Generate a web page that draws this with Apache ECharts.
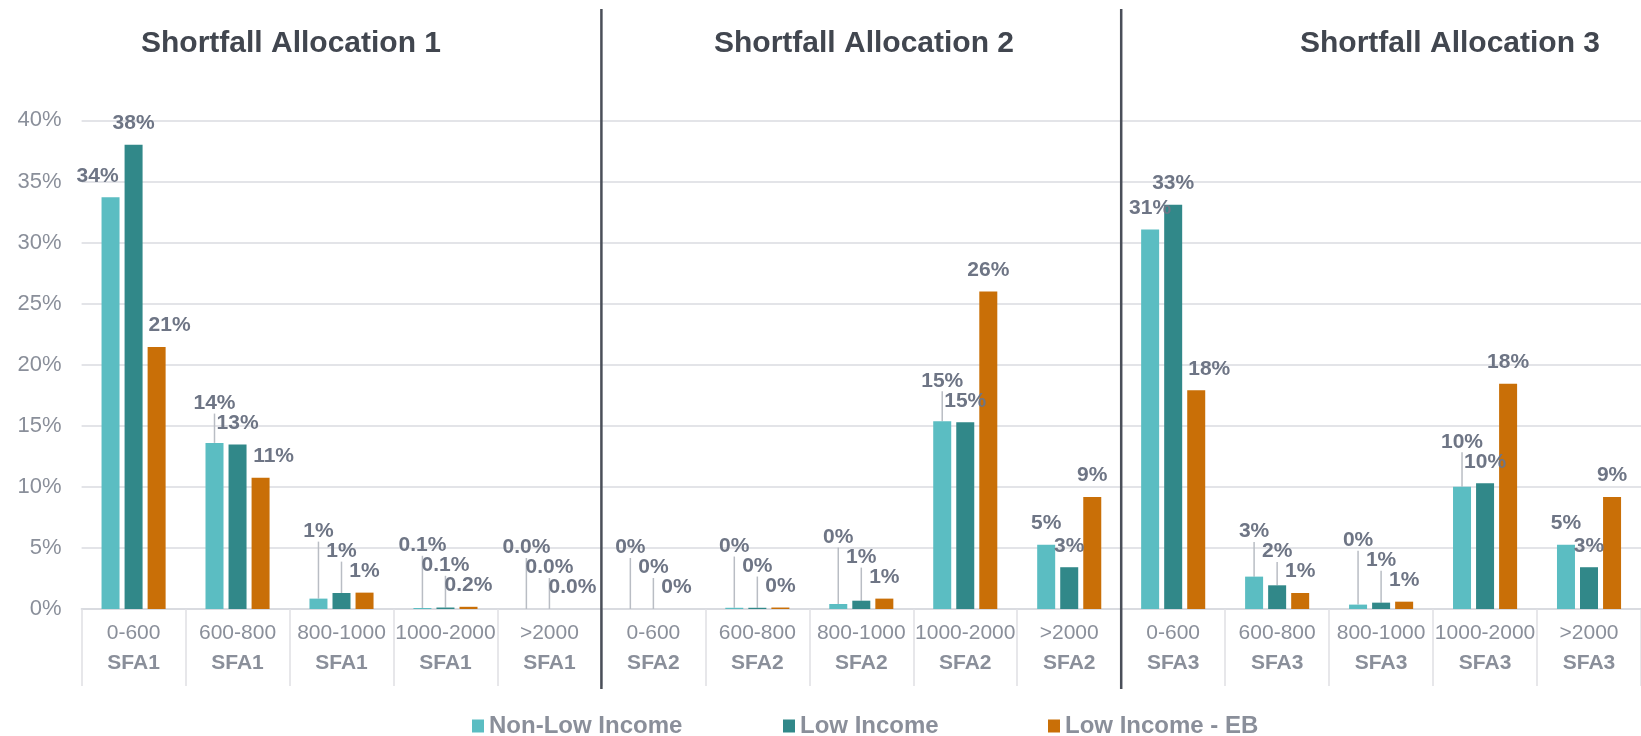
<!DOCTYPE html>
<html>
<head>
<meta charset="utf-8">
<script src="https://cdn.jsdelivr.net/npm/echarts@6/dist/echarts.min.js"></script>
<style>
html,body{margin:0;padding:0;background:#fff;}
#chart{width:1641px;height:736px;}
</style>
</head>
<body>
<div id="chart"></div>
<script>
// ---- data ----
const rangeLabels = ['0-600','600-800','800-1000','1000-2000','>2000',
                     '0-600','600-800','800-1000','1000-2000','>2000',
                     '0-600','600-800','800-1000','1000-2000','>2000'];
const groupLabels = ['SFA1','SFA1','SFA1','SFA1','SFA1',
                     'SFA2','SFA2','SFA2','SFA2','SFA2',
                     'SFA3','SFA3','SFA3','SFA3','SFA3'];
const groupTitles = ['Shortfall Allocation 1','Shortfall Allocation 2','Shortfall Allocation 3'];
const seriesNames = ['Non-Low Income','Low Income','Low Income - EB'];
const nonLowIncome = [33.7, 13.6, 0.85, 0.08, 0.0,  0.0, 0.1, 0.41, 15.38, 5.25,  31.06, 2.65, 0.36, 10.0, 5.25];
const lowIncome    = [38.0, 13.46, 1.31, 0.12, 0.0, 0.0, 0.1, 0.68, 15.29, 3.42,  33.1, 1.94, 0.52, 10.29, 3.42];
const lowIncomeEB  = [21.45, 10.75, 1.34, 0.18, 0.0, 0.0, 0.12, 0.85, 26.0, 9.17,  17.9, 1.31, 0.6, 18.45, 9.17];
const labelDecimals = [0,0,0,1,1, 0,0,0,0,0, 0,0,0,0,0];
const yTicks = [0,5,10,15,20,25,30,35,40];

const allSeries = [nonLowIncome, lowIncome, lowIncomeEB];
const colors = ['#5bbdc2','#318889','#c96f07'];
const FONT = '"Liberation Sans", Arial, sans-serif';
const GROUP_SIZE = 5;

const chart = echarts.init(document.getElementById('chart'), null, {renderer:'canvas'});

const LABEL_GAP = 11;
const LABEL_H = 20;
const SIDE_SHIFT = 13;
function yPix(v) { return chart.convertToPixel({yAxisIndex:0}, v); }
function labelShift(seriesIdx, dataIdx) {
  const natural = [];
  for (let s = 0; s < 3; s++) natural[s] = yPix(allSeries[s][dataIdx]) - LABEL_GAP;
  const placed = [];
  const ys = [];
  for (let s = 2; s >= 0; s--) {
    let y = natural[s];
    let changed = true;
    while (changed) {
      changed = false;
      for (const p of placed) {
        if (y > p - LABEL_H + 0.01 && y - LABEL_H < p - 0.01) { y = p - LABEL_H; changed = true; }
      }
    }
    placed.push(y);
    ys[s] = y;
  }
  return ys[seriesIdx] - natural[seriesIdx];
}
// outer labels step sideways when the neighbouring bar rises through them
function labelSide(seriesIdx, dataIdx, dy) {
  if (Math.abs(dy) > 0.5) return 0;
  const bottom = yPix(allSeries[seriesIdx][dataIdx]) - LABEL_GAP;
  if (seriesIdx === 0 && yPix(allSeries[1][dataIdx]) < bottom &&
      !(dataIdx > 0 && dataIdx % GROUP_SIZE === 0)) return -SIDE_SHIFT;
  if (seriesIdx === 2 && yPix(allSeries[1][dataIdx]) < bottom) return SIDE_SHIFT;
  return 0;
}

function buildSeries(withLines) {
  return seriesNames.map((name, si) => ({
    name: name,
    type: 'bar',
    data: allSeries[si].map((v, di) => withLines
      ? {value: v, labelLine: {show: Math.abs(labelShift(si, di)) > 0.5}}
      : {value: v, labelLine: {show: false}}),
    barWidth: 18,
    barGap: '28%',
    itemStyle: {color: colors[si]},
    label: {
      show: true,
      position: 'top',
      distance: 0,
      padding: [0, 0, LABEL_GAP, 0],
      color: '#6e7585',
      fontWeight: 'bold',
      fontSize: 21,
      fontFamily: FONT,
      formatter: p => p.value.toFixed(labelDecimals[p.dataIndex]) + '%'
    },
    labelLine: {show: true, lineStyle: {color: '#b9bdc4', width: 1.5}},
    labelLayout: function (params) {
      const dy = labelShift(params.seriesIndex, params.dataIndex);
      return {dy: dy, dx: labelSide(params.seriesIndex, params.dataIndex, dy)};
    }
  }));
}

const titleCenters = [291, 864, 1450];
const option = {
  animation: false,
  backgroundColor: '#ffffff',
  title: groupTitles.map((t, i) => ({
    text: t, left: titleCenters[i], top: 29, textAlign: 'center', padding: 0,
    textStyle: {fontFamily: FONT, fontSize: 30, fontWeight: 'bold', color: '#41464f'}
  })),
  legend: seriesNames.map((n, i) => ({
    data: [n], left: [472, 783, 1048][i], top: 714, padding: 0,
    itemWidth: 12, itemHeight: 13, icon: 'rect', selectedMode: false,
    textStyle: {fontFamily: FONT, fontSize: 24, fontWeight: 'bold', color: '#8a8f9a'}
  })),
  grid: {left: 81.6, right: -11, top: 120.4, bottom: 127, containLabel: false},
  xAxis: {
    type: 'category',
    data: rangeLabels,
    axisLine: {lineStyle: {color: '#d9dbe0', width: 2}},
    axisTick: {show: true, interval: 0, length: 77, lineStyle: {color: '#dfe0e4', width: 1.5}},
    axisLabel: {
      interval: 0, margin: 9,
      formatter: (v, i) => '{a|' + v + '}\n{b|' + groupLabels[i] + '}',
      rich: {
        a: {fontFamily: FONT, fontSize: 21, color: '#8a8f9a', lineHeight: 30},
        b: {fontFamily: FONT, fontSize: 21, fontWeight: 'bold', color: '#8a8f9a', lineHeight: 30}
      }
    }
  },
  yAxis: {
    type: 'value', min: yTicks[0], max: yTicks[yTicks.length-1], interval: yTicks[1]-yTicks[0],
    axisLine: {show: false}, axisTick: {show: false},
    splitLine: {lineStyle: {color: '#e3e4e8', width: 2}},
    axisLabel: {fontFamily: FONT, fontSize: 22, color: '#8a8f9a', margin: 20, formatter: '{value}%'}
  },
  series: buildSeries(false)
};
chart.setOption(option);
// second pass: leader lines only for labels that had to be moved up
chart.setOption({series: buildSeries(true)});

// group separators, placed at category boundaries from the axis
function drawSeparators() {
  const xs = [];
  for (const b of [GROUP_SIZE, 2 * GROUP_SIZE]) {
    const a = chart.convertToPixel({xAxisIndex:0}, b - 1);
    const c = chart.convertToPixel({xAxisIndex:0}, b);
    xs.push((a + c) / 2);
  }
  chart.setOption({
    graphic: xs.map(x => ({
      type: 'line', shape: {x1: x, y1: 9, x2: x, y2: 689},
      style: {stroke: '#4a4f59', lineWidth: 2.5}, z: 100
    }))
  });
}
drawSeparators();
</script>
</body>
</html>
